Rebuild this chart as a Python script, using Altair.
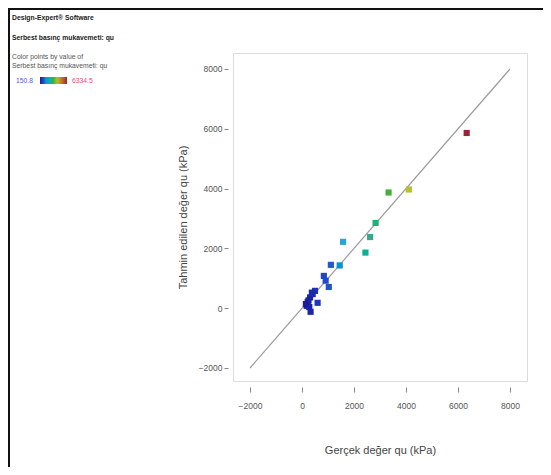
import altair as alt
import pandas as pd

# Actual vs predicted values (kPa)
actual = [6334, 4110, 3330, 2830, 2620, 2440, 1580, 1450, 1110, 840, 910, 1030,
          500, 410, 310, 220, 180, 600, 330, 280, 250, 380, 150]
predicted = [5860, 3970, 3870, 2850, 2380, 1860, 2220, 1430, 1450, 1080, 920, 710,
             580, 470, 360, 210, 80, 180, -120, 40, 260, 520, 140]

diag_x = [-2000, 8000]
diag_y = [-2000, 8000]

x_ticks = [-2000, 0, 2000, 4000, 6000, 8000]
y_ticks = [-2000, 0, 2000, 4000, 6000, 8000]

color_stops = [150, 1100, 1600, 2600, 3300, 4100, 6334]
color_range = ["#1a1a9e", "#2456cc", "#33a6d6", "#2fae8c", "#3fae3f", "#b4c232", "#9e2236"]

low_label = "150.8"
high_label = "6334.5"

df = pd.DataFrame({"actual": actual, "predicted": predicted})
diag = pd.DataFrame({"x": diag_x, "y": diag_y})

W, H = 294, 328
FONT = "Liberation Sans"

xscale = alt.Scale(domain=[-2654, 8654], nice=False, zero=False)
yscale = alt.Scale(domain=[-2435, 8535], nice=False, zero=False)

xaxis = alt.Axis(values=x_ticks, format="d", title="Gerçek değer qu (kPa)", grid=False, domain=False,
                 offset=6, tickSize=5, tickColor="#888", labelPadding=9,
                 labelFontSize=8.5, labelColor="#555", labelFont=FONT,
                 titleFont=FONT, titleFontSize=11, titleFontWeight="normal",
                 titleColor="#444", titlePadding=35, labelFlush=False)
yaxis = alt.Axis(values=y_ticks, format="d", title="Tahmin edilen değer qu (kPa)", grid=False, domain=False,
                 offset=5, tickSize=4, tickColor="#888", labelPadding=2,
                 labelFontSize=8.5, labelColor="#555", labelFont=FONT,
                 titleFont=FONT, titleFontSize=11, titleFontWeight="normal",
                 titleColor="#444", titlePadding=10, labelFlush=False)

line = alt.Chart(diag).mark_line(color="#9a9a9a", strokeWidth=1.2).encode(
    x=alt.X("x:Q", scale=xscale, axis=xaxis),
    y=alt.Y("y:Q", scale=yscale, axis=yaxis),
)

pts = alt.Chart(df).mark_square(size=38, opacity=1).encode(
    x=alt.X("actual:Q", scale=xscale),
    y=alt.Y("predicted:Q", scale=yscale),
    color=alt.Color("actual:Q",
                    scale=alt.Scale(domain=color_stops, range=color_range),
                    legend=alt.Legend(orient="none", legendX=-193, legendY=24,
                                      direction="horizontal", title=None,
                                      gradientLength=27, gradientThickness=7,
                                      gradientStrokeWidth=0, labelOpacity=0,
                                      labelFontSize=1, padding=0)),
)

def txt(s, x, y, size=6.8, bold=False, color="#222"):
    return alt.Chart(pd.DataFrame({"t": [s]})).mark_text(
        align="left", baseline="middle", font=FONT, fontSize=size,
        fontWeight="bold" if bold else "normal", color=color
    ).encode(text="t:N", x=alt.value(x), y=alt.value(y))

ox, oy = 233, 53
texts = [
    txt("Design-Expert® Software", 12 - ox, 18 - oy, bold=True),
    txt("Serbest basınç mukavemeti: qu", 12 - ox, 38 - oy, bold=True),
    txt("Color points by value of", 12 - ox, 57 - oy, color="#555"),
    txt("Serbest basınç mukavemeti: qu", 12 - ox, 66 - oy, color="#555"),
    txt(low_label, 16 - ox, 81 - oy, color="#5a5ad0"),
    txt(high_label, 72 - ox, 81 - oy, color="#e0507a"),
]

frame_top = alt.Chart(diag).mark_rule(color="#111", strokeWidth=2).encode(
    x=alt.value(9 - ox), x2=alt.value(W + 40), y=alt.value(9 - oy))
frame_left = alt.Chart(diag).mark_rule(color="#111", strokeWidth=2).encode(
    x=alt.value(9 - ox), y=alt.value(8 - oy), y2=alt.value(H + 120))

chart = alt.layer(line, pts, frame_top, frame_left, *texts).properties(
    width=W, height=H,
    autosize=alt.AutoSizeParams(type="none"),
    padding={"left": 225, "top": 45, "right": 16, "bottom": 86},
).configure_view(stroke="#a8a8a8", strokeWidth=1.5).configure(background="white")

chart.save("out.html", embed_options={"renderer": "svg", "actions": False})
